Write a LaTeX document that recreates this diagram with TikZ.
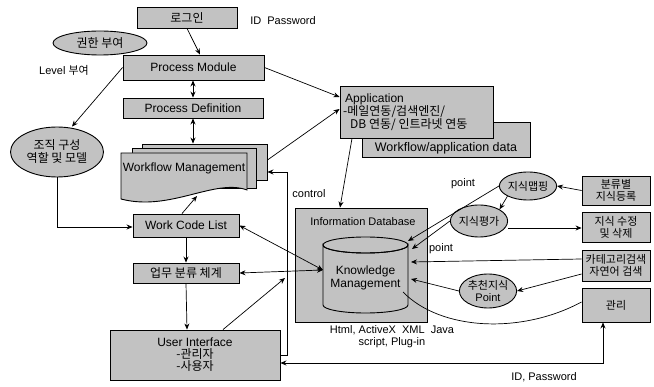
\documentclass[tikz,border=0pt]{standalone}
\usepackage{fontspec}
\setmainfont{Liberation Sans}
\newfontfamily\kr{Noto Sans CJK KR}
\usetikzlibrary{arrows.meta,shapes.geometric}
\begin{document}
\begin{tikzpicture}[x=1pt,y=-1pt,
  font=\fontsize{12}{13}\selectfont,
  box/.style={draw,line width=0.9pt,fill=black!24,inner sep=1pt,align=center},
  ell/.style={draw,ellipse,line width=0.9pt,fill=black!24,inner sep=0pt,align=center},
  txt/.style={inner sep=0pt,align=center},
  small/.style={font=\fontsize{11}{12}\selectfont},
  ar/.style={-{Stealth[length=6pt,width=5pt]},line width=0.7pt},
  dar/.style={{Stealth[length=6pt,width=5pt]}-{Stealth[length=6pt,width=5pt]},line width=0.7pt},
  ln/.style={line width=0.7pt}]
\useasboundingbox (0,0) rectangle (654,387);

% left column
\node[box,minimum width=100pt,minimum height=21pt] (login) at (187,17.5) {\kr 로그인};
\node[txt,small] (idpw) at (283,21) {ID\ \ Password};
\node[ell,minimum width=94pt,minimum height=24pt] (auth) at (100,43) {\kr 권한 부여};
\node[txt,small] (lvl) at (64,70) {Level {\kr 부여}};
\node[box,minimum width=141pt,minimum height=25pt] (pm) at (193.5,67.5) {Process Module};
\node[box,minimum width=140pt,minimum height=20pt] (pd) at (193,108) {Process Definition};
\node[ell,minimum width=93pt,minimum height=50pt] (org) at (57,152) {\kr 조직 구성\\\kr 역할 및 모델};

% workflow management stack
\node[box,minimum width=125pt,minimum height=36pt] (wmc) at (204.5,162) {};
\node[box,minimum width=124pt,minimum height=40pt] (wmb) at (194,168) {};
\path[draw,line width=0.9pt,fill=black!24] (121,153) -- (247,153) -- (247,190)
  .. controls (215,178) and (170,212) .. (121,199) -- cycle;
\node[txt,minimum width=126pt,minimum height=30pt] (wm) at (184,168) {Workflow Management};

\node[box,minimum width=106pt,minimum height=23pt] (wcl) at (186,225.5) {Work Code List};
\node[box,minimum width=106pt,minimum height=20pt] (biz) at (186,273) {\kr 업무 분류 체계};
\node[box,minimum width=170pt,minimum height=50pt] (ui) at (195,355) {User Interface\\[-1pt]{\kr -관리자}\\[-1pt]{\kr -사용자}};

% application
\node[box,minimum width=168pt,minimum height=35pt] (wfd) at (446,139.5) {};
\node[txt,font=\fontsize{12.5}{13}\selectfont] (wfdt) at (446,148) {Workflow/application data};
\node[box,minimum width=153pt,minimum height=52pt] (app) at (416.5,112) {};
\node[txt,anchor=west] (app1) at (345,99) {Application};
\node[txt,anchor=west] (app2) at (343,112) {\kr -메일연동/검색엔진/};
\node[txt,anchor=west] (app3) at (350,125) {\kr DB 연동/ 인트라넷 연동};

% information database
\node[box,minimum width=132pt,minimum height=114pt] (idb) at (361,265) {};
\node[txt,small] (idbt) at (363,222) {Information Database};
\path[draw,line width=0.9pt,fill=black!24] (323,245) -- (323,305)
  arc[start angle=180,end angle=0,x radius=42.5,y radius=8] -- (408,245)
  arc[start angle=0,end angle=180,x radius=42.5,y radius=8] -- cycle;
\draw[line width=0.9pt] (365.5,245) ellipse[x radius=42.5,y radius=8];
\node[txt] (km) at (365.5,278) {Knowledge\\Management};
\node[txt,small] (html) at (392,337) {Html, ActiveX\ \ XML\ \ Java\\script, Plug-in};
\node[txt,small] (ctl) at (309,194) {control};
\node[txt,small] (pt1) at (463,184) {point};
\node[txt,small] (pt2) at (441,249) {point};
\node[txt,small] (idpw2) at (544,377) {ID, Password};

% right side
\node[ell,small,minimum width=52pt,minimum height=28pt] (map) at (528,186) {\kr 지식맵핑};
\node[ell,small,minimum width=53pt,minimum height=32pt] (eva) at (479,221) {\kr 지식평가};
\node[ell,small,minimum width=50pt,minimum height=34pt] (rec) at (488,291) {\kr 추천지식\\Point};
\node[box,small,minimum width=68pt,minimum height=29pt] (reg) at (616,190.5) {\kr 분류별\\\kr 지식등록};
\node[box,small,minimum width=68pt,minimum height=30pt] (mod) at (616,227) {\kr 지식 수정\\\kr 및 삭제};
\node[box,small,minimum width=68pt,minimum height=31pt] (cat) at (616,265.5) {\kr 카테고리검색\\\kr 자연어 검색};
\node[box,small,minimum width=68pt,minimum height=34pt] (mg) at (616,305) {\kr 관리};

% cylinder anchor points
\coordinate (c1) at (408,241);
\coordinate (c2) at (412,249);
\coordinate (c3) at (411,262);
\coordinate (c4) at (411,279);
\coordinate (c5) at (403,292);
\coordinate (cl) at (323,270);
\coordinate (uiarr) at (285,278);

% connectors
\draw[ar] (login.south) -- (pm.north -| 200,0);
\draw[dar] (pm.south -| 193,0) -- (pd.north -| 193,0);
\draw[dar] (pd.south -| 193,0) -- (wmc.north -| 193,0);
\draw[ar] (pm.east) -- (app.west |- 0,97);
\draw[ar] (wmc.east |- 0,160) -- (app.west |- 0,109);
\draw[ar] (pm.west) -- (org.north -| 72,0);
\draw[ar] (org.south) -- (57,227) -- (wcl.west |- 0,227);
\draw[ar] (wcl.north -| 182,0) -- (197,196);
\draw[ar] (wcl.south) -- (biz.north);
\draw[ar] (biz.south) -- (ui.north -| 187,0);
\draw[dar] (wcl.east) -- (cl);
\draw[dar] (biz.east) -- (cl);
\draw[ar] (ui.north -| 223,0) -- (uiarr);
\draw[ar] (ui.east) -- (287,355) -- (287,172) -- (wmc.east |- 0,172);
\draw[ar] (app.south -| 352,0) -- (idb.north -| 340,0);
\draw[ar] (map.west) -- (c1);
\draw[ar] (eva.west) -- (c2);
\draw[ar] (cat.west |- 0,259) -- (c3);
\draw[ar] (rec.west) -- (c4);
\draw[ln] (c5) .. controls (440,330) and (520,335) .. (mg.west |- 0,302);
\draw[ar] (reg.west) -- (map.east);
\draw[ar] (map.south west) -- (eva.north east);
\draw[ar] (eva.east |- 0,228) -- (mod.west |- 0,228);
\draw[ar] (cat.west |- 0,274) -- (rec.east);
\draw[dar] (ui.east |- 0,363) -- (603,363) -- (mg.south -| 603,0);
\end{tikzpicture}
\end{document}
